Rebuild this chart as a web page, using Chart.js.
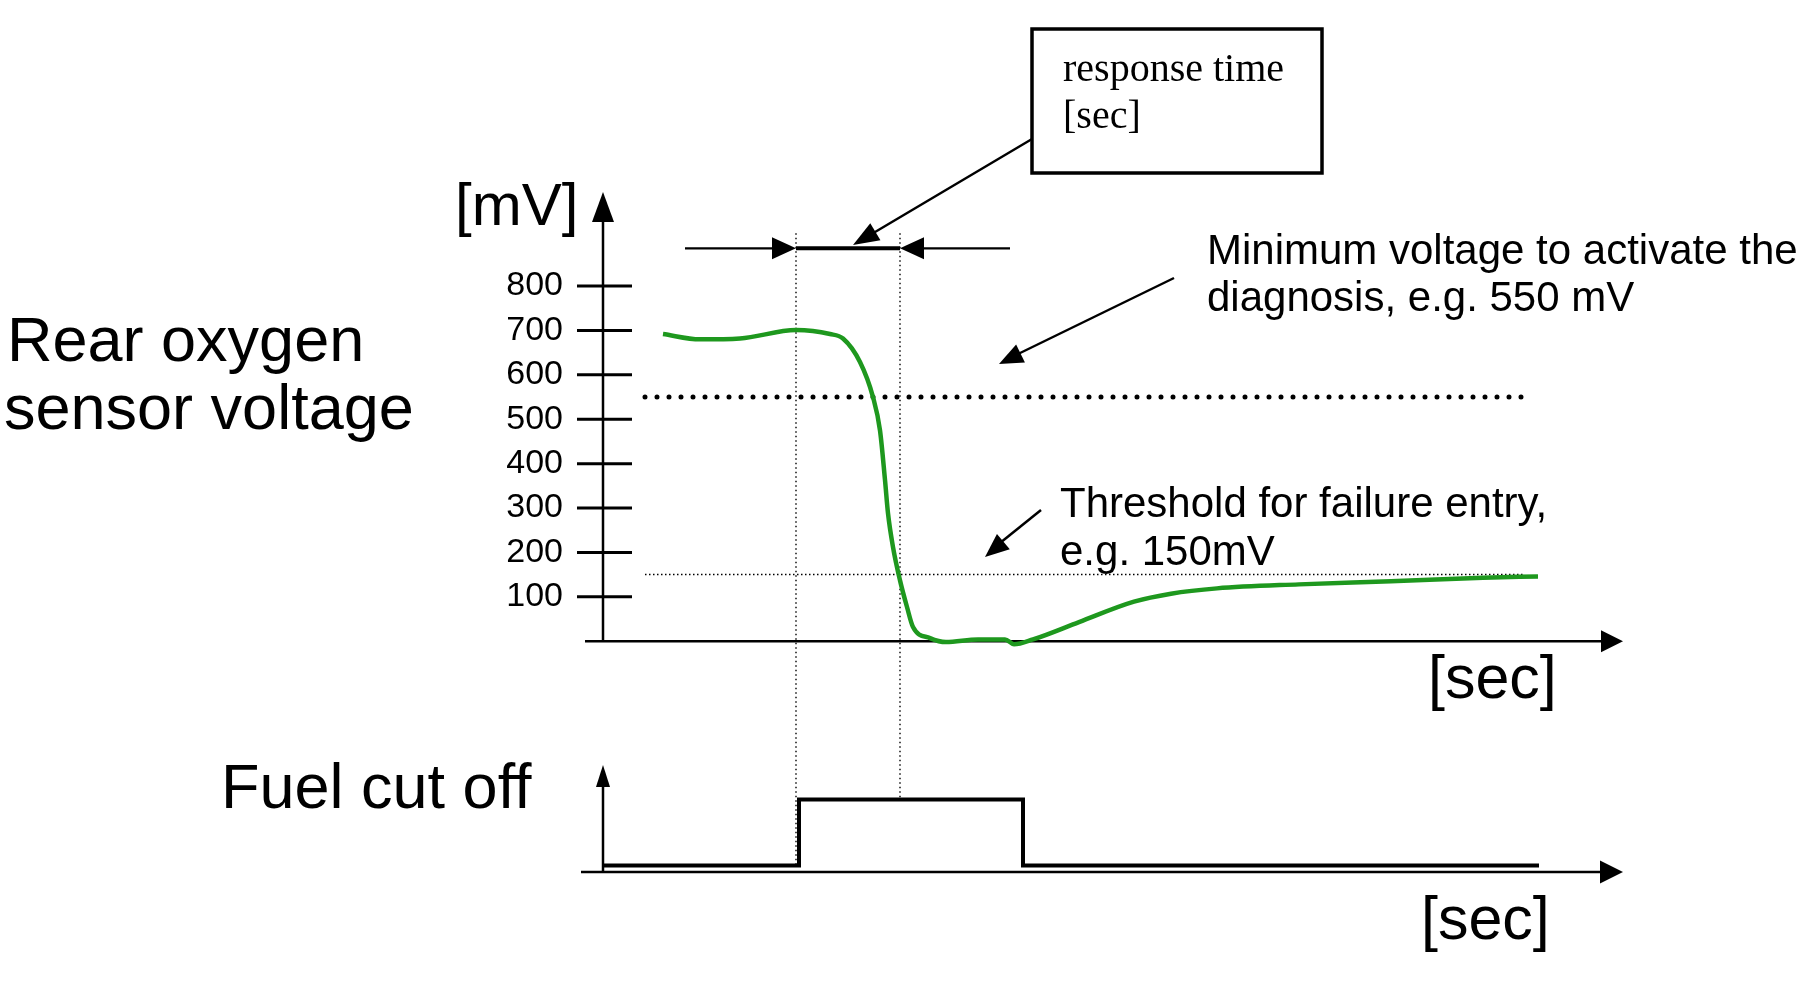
<!DOCTYPE html>
<html>
<head>
<meta charset="utf-8">
<title>Rear oxygen sensor response time</title>
<script src="https://cdn.jsdelivr.net/npm/chart.js@4.4.1/dist/chart.umd.min.js"></script>
<style>
  html, body { margin: 0; padding: 0; background: #fff; }
  #wrap { position: relative; width: 1818px; height: 986px; }
</style>
</head>
<body>
<div id="wrap"><canvas id="chart"></canvas></div>
<script>
// rear O2 sensor trace, time in arbitrary [sec] units, voltage in mV
const sensorTime = [6.0, 9.7, 13.7, 19.3, 22.7, 24.0, 25.7, 27.0, 27.7, 28.2, 28.5, 29.0, 29.7, 30.4, 31.0, 32.7, 34.3, 37.5, 40.2, 41.1, 43.0, 47.6, 53.1, 56.8, 61.4, 69.6, 78.8, 88.0, 93.5];
const sensorMv = [692, 680, 682, 701, 692, 682, 629, 550, 475, 363, 288, 212, 137, 77, 32, 7, -2, 4, 4, -7, 4, 43, 89, 107, 119, 128, 135, 143, 146];

// fuel cut off signal (0 = fuel on, 1 = cut off)
const fuelTime = [0, 19.6, 42.0, 93.6];
const fuelState = [0, 1, 0, 0];

const mvTicks = [100, 200, 300, 400, 500, 600, 700, 800];
const minVoltage = 550;     // minimum voltage to activate the diagnosis
const failThreshold = 150;  // threshold for failure entry
const thresholdSpan = [4.2, 92.2];
const responseStart = 19.3;
const responseEnd = 29.7;
const responseArrowSpan = [8.2, 40.7];
const responseArrowMv = 885;
const markerTopMv = 919;

const FONT = "'Liberation Sans', Arial, Helvetica, sans-serif";
const SERIF = "'Liberation Serif', 'Times New Roman', serif";

function line(ctx, x1, y1, x2, y2) {
    ctx.beginPath();
    ctx.moveTo(x1, y1);
    ctx.lineTo(x2, y2);
    ctx.stroke();
}

// filled triangle, tip at (tx, ty) pointing away from (fx, fy)
function arrowHead(ctx, fx, fy, tx, ty, len, half) {
    const a = Math.atan2(ty - fy, tx - fx);
    const bx = tx - len * Math.cos(a), by = ty - len * Math.sin(a);
    ctx.beginPath();
    ctx.moveTo(tx, ty);
    ctx.lineTo(bx + half * Math.sin(a), by - half * Math.cos(a));
    ctx.lineTo(bx - half * Math.sin(a), by + half * Math.cos(a));
    ctx.closePath();
    ctx.fill();
}

function label(ctx, str, x, y, font) {
    ctx.font = font;
    ctx.fillText(str, x, y);
}

const diagram = {
    id: 'diagram',
    beforeDatasetsDraw(chart) {
        const { ctx, chartArea, scales: { x, y, yFuel } } = chart;
        const x0 = x.getPixelForValue(0);
        const y0 = y.getPixelForValue(0);
        const f0 = chartArea.bottom;
        ctx.save();
        ctx.strokeStyle = '#000';
        ctx.fillStyle = '#000';
        ctx.lineCap = 'butt';

        // upper axes
        ctx.lineWidth = 2.5;
        line(ctx, x0, y0, x0, chartArea.top + 20);
        arrowHead(ctx, x0, y0, x0, chartArea.top, 30, 11);
        line(ctx, x.getPixelForValue(-1.8), y0, chartArea.right - 20, y0);
        arrowHead(ctx, x0, y0, chartArea.right, y0, 22, 11);

        // tick marks crossing the mV axis
        ctx.lineWidth = 3;
        mvTicks.forEach(v => {
            const py = y.getPixelForValue(v);
            line(ctx, x0 - 26, py, x0 + 29, py);
        });

        // lower axes
        ctx.lineWidth = 2.5;
        const fTop = yFuel.getPixelForValue(1.52);
        line(ctx, x0, f0, x0, fTop + 18);
        arrowHead(ctx, x0, f0, x0, fTop, 22, 7);
        line(ctx, x.getPixelForValue(-2.2), f0, chartArea.right - 20, f0);
        arrowHead(ctx, x0, f0, chartArea.right, f0, 23, 11.5);

        // response time markers
        ctx.lineWidth = 1.4;
        ctx.setLineDash([1.5, 3]);
        const top = y.getPixelForValue(markerTopMv);
        line(ctx, x.getPixelForValue(responseStart), top, x.getPixelForValue(responseStart), yFuel.getPixelForValue(0));
        line(ctx, x.getPixelForValue(responseEnd), top, x.getPixelForValue(responseEnd), yFuel.getPixelForValue(1));
        ctx.setLineDash([]);
        ctx.restore();
    },
    afterDraw(chart) {
        const { ctx, scales: { x, y } } = chart;
        ctx.save();
        ctx.strokeStyle = '#000';
        ctx.fillStyle = '#000';
        ctx.textBaseline = 'alphabetic';
        ctx.textAlign = 'left';

        // response time dimension arrow
        const ry = y.getPixelForValue(responseArrowMv);
        const rs = x.getPixelForValue(responseStart), re = x.getPixelForValue(responseEnd);
        ctx.lineWidth = 2.2;
        line(ctx, x.getPixelForValue(responseArrowSpan[0]), ry, rs - 20, ry);
        line(ctx, re + 20, ry, x.getPixelForValue(responseArrowSpan[1]), ry);
        ctx.lineWidth = 4;
        line(ctx, rs, ry, re, ry);
        arrowHead(ctx, rs - 30, ry, rs, ry, 24, 11);
        arrowHead(ctx, re + 30, ry, re, ry, 24, 11);

        // callout box
        ctx.lineWidth = 3.5;
        ctx.strokeRect(1032, 29, 290, 144);
        label(ctx, 'response time', 1063, 81, '40px ' + SERIF);
        label(ctx, '[sec]', 1063, 128, '40px ' + SERIF);

        // callout pointers
        ctx.lineWidth = 2.5;
        line(ctx, 1032, 139, 870, 235);
        arrowHead(ctx, 1032, 139, 853, 245, 26, 10);
        line(ctx, 1174, 278, 1016, 355);
        arrowHead(ctx, 1174, 278, 999, 364, 24, 10);
        line(ctx, 1041, 510, 1000, 543);
        arrowHead(ctx, 1041, 510, 985, 557, 24, 10);

        // labels
        label(ctx, '[mV]', 455, 225, '60px ' + FONT);
        label(ctx, 'Rear oxygen', 7, 361, '63px ' + FONT);
        label(ctx, 'sensor voltage', 4, 429, '63px ' + FONT);
        label(ctx, 'Fuel cut off', 221, 808, '63px ' + FONT);
        label(ctx, '[sec]', 1428, 698, '61px ' + FONT);
        label(ctx, '[sec]', 1421, 939, '61px ' + FONT);
        label(ctx, 'Minimum voltage to activate the', 1207, 264, '42px ' + FONT);
        label(ctx, 'diagnosis, e.g. 550 mV', 1207, 311, '42px ' + FONT);
        label(ctx, 'Threshold for failure entry,', 1060, 517, '42px ' + FONT);
        label(ctx, 'e.g. 150mV', 1060, 565, '42px ' + FONT);
        ctx.restore();
    }
};

const ctx = document.getElementById('chart').getContext('2d');
new Chart(ctx, {
    type: 'line',
    data: {
        datasets: [
            {
                label: 'Rear oxygen sensor voltage',
                data: sensorTime.map((t, i) => ({ x: t, y: sensorMv[i] })),
                yAxisID: 'y',
                borderColor: 'rgb(30, 152, 30)',
                borderWidth: 4.5,
                pointRadius: 0,
                cubicInterpolationMode: 'monotone',
                clip: false
            },
            {
                label: 'Minimum voltage',
                data: thresholdSpan.map(t => ({ x: t, y: minVoltage })),
                yAxisID: 'y',
                borderColor: '#000',
                borderWidth: 5,
                borderDash: [0, 12],
                borderCapStyle: 'round',
                pointRadius: 0,
                clip: false
            },
            {
                label: 'Failure threshold',
                data: thresholdSpan.map(t => ({ x: t, y: failThreshold })),
                yAxisID: 'y',
                borderColor: '#000',
                borderWidth: 1.5,
                borderDash: [1.5, 2.5],
                pointRadius: 0,
                clip: false
            },
            {
                label: 'Fuel cut off',
                data: fuelTime.map((t, i) => ({ x: t, y: fuelState[i] })),
                yAxisID: 'yFuel',
                borderColor: '#000',
                borderWidth: 4,
                stepped: true,
                pointRadius: 0,
                clip: false
            }
        ]
    },
    options: {
        responsive: true,
        maintainAspectRatio: false,
        animation: false,
        devicePixelRatio: 1,
        layout: { padding: { left: 503, right: 195, top: 192, bottom: 114 } },
        plugins: {
            legend: { display: false },
            tooltip: { enabled: false }
        },
        scales: {
            x: {
                type: 'linear',
                min: -2,
                max: 102,
                display: false
            },
            y: {
                type: 'linear',
                position: 'left',
                min: -520,
                max: 1012,
                afterBuildTicks: scale => { scale.ticks = mvTicks.map(v => ({ value: v })); },
                afterFit: scale => { scale.width = 80; },
                grid: { display: false, drawTicks: false },
                border: { display: false },
                ticks: {
                    color: '#000',
                    padding: 20,
                    font: { family: FONT, size: 34 }
                }
            },
            yFuel: {
                type: 'linear',
                min: -0.1,
                max: 10.2,
                display: false
            }
        }
    },
    plugins: [diagram]
});
</script>
</body>
</html>
